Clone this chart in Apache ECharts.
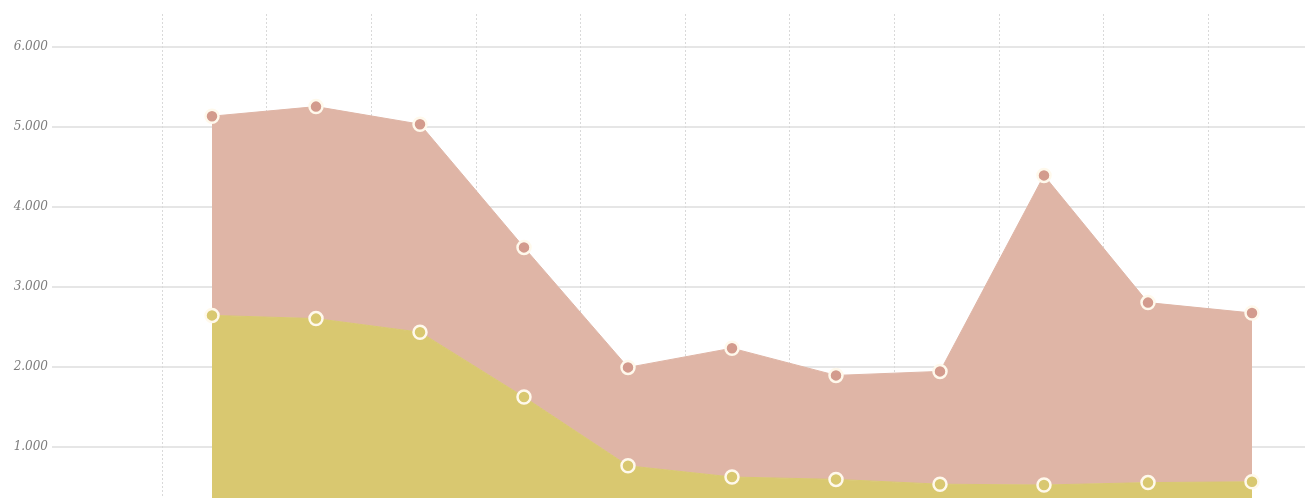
<!DOCTYPE html>
<html>
<head>
<meta charset="utf-8">
<title>Stacked area</title>
<script src="https://cdn.jsdelivr.net/npm/echarts@6/dist/echarts.min.js"></script>
<style>
  html, body { margin: 0; padding: 0; background: #fff; }
  #chart { width: 1305px; height: 498px; }
</style>
</head>
<body>
<div id="chart"></div>
<script>
// x labels sit below the visible area in the reference, so they are unnamed here
const categories = ['1', '2', '3', '4', '5', '6', '7', '8', '9', '10', '11']

// bottom (yellow) layer and the pink layer stacked on top of it
const baseValues = [2640, 2600, 2430, 1620, 760, 620, 590, 530, 520, 550, 560]
const topValues = [2490, 2650, 2600, 1870, 1230, 1610, 1300, 1410, 3870, 2250, 2110]

const yTicks = [0, 1000, 2000, 3000, 4000, 5000, 6000]

const chart = echarts.init(document.getElementById('chart'))

const fmt = (v) => {
  if (v === 0) return ''
  return String(v).replace(/\B(?=(\d{3})+(?!\d))/g, '.')
}

// plot area: 6.000 at y~47, zero a little below the picture edge
const plotTop = 46.6
const plotHeight = 480

const option = {
  animation: false,
  backgroundColor: '#fff',
  grid: [
    { left: 52, right: 0, top: plotTop, height: plotHeight, outerBoundsMode: 'none' },
    { left: 160, right: 1, top: plotTop, height: plotHeight, outerBoundsMode: 'none' },
    { left: 162, width: 1046, top: 14, bottom: 0, outerBoundsMode: 'none' },
  ],
  xAxis: [
    { gridIndex: 0, type: 'category', data: categories, show: false },
    {
      gridIndex: 1,
      type: 'category',
      data: categories,
      boundaryGap: true,
      axisLine: { show: false },
      axisTick: { show: false },
      axisLabel: { show: false },
      splitLine: { show: false },
    },
    {
      gridIndex: 2,
      type: 'value',
      min: 0,
      max: categories.length - 1,
      interval: 1,
      axisLine: { show: false },
      axisTick: { show: false },
      axisLabel: { show: false },
      splitLine: {
        show: true,
        lineStyle: { color: '#d9d9d9', width: 1, type: [2, 2] },
      },
    },
  ],
  yAxis: [
    {
      gridIndex: 0,
      type: 'value',
      min: yTicks[0],
      max: yTicks[yTicks.length - 1],
      interval: 1000,
      axisLine: { show: false },
      axisTick: { show: false },
      axisLabel: {
        formatter: fmt,
        margin: 4,
        color: '#7d7d7d',
        fontFamily: 'DejaVu Serif',
        fontStyle: 'italic',
        fontSize: 12,
      },
      splitLine: {
        lineStyle: { color: '#e6e6e6', width: 2 },
      },
    },
    {
      gridIndex: 1,
      type: 'value',
      min: yTicks[0],
      max: yTicks[yTicks.length - 1],
      interval: 1000,
      show: false,
      splitLine: { show: false },
    },
    { gridIndex: 2, type: 'value', show: false, splitLine: { show: false } },
  ],
  series: [
    {
      name: 'base',
      type: 'line',
      xAxisIndex: 1,
      yAxisIndex: 1,
      stack: 'total',
      data: baseValues,
      symbol: 'circle',
      symbolSize: 13,
      lineStyle: { color: '#d9c870', width: 1 },
      itemStyle: { color: '#d9c870', borderColor: '#fff9ec', borderWidth: 2.5 },
      areaStyle: { color: '#d9c870', opacity: 1 },
      z: 3,
    },
    {
      name: 'top',
      type: 'line',
      xAxisIndex: 1,
      yAxisIndex: 1,
      stack: 'total',
      data: topValues,
      symbol: 'circle',
      symbolSize: 13,
      lineStyle: { color: '#dfb5a6', width: 1 },
      itemStyle: { color: '#d39b8d', borderColor: '#fff9ec', borderWidth: 2.5 },
      areaStyle: { color: '#dfb5a6', opacity: 1 },
      z: 2,
    },
  ],
}

chart.setOption(option)
</script>
</body>
</html>
